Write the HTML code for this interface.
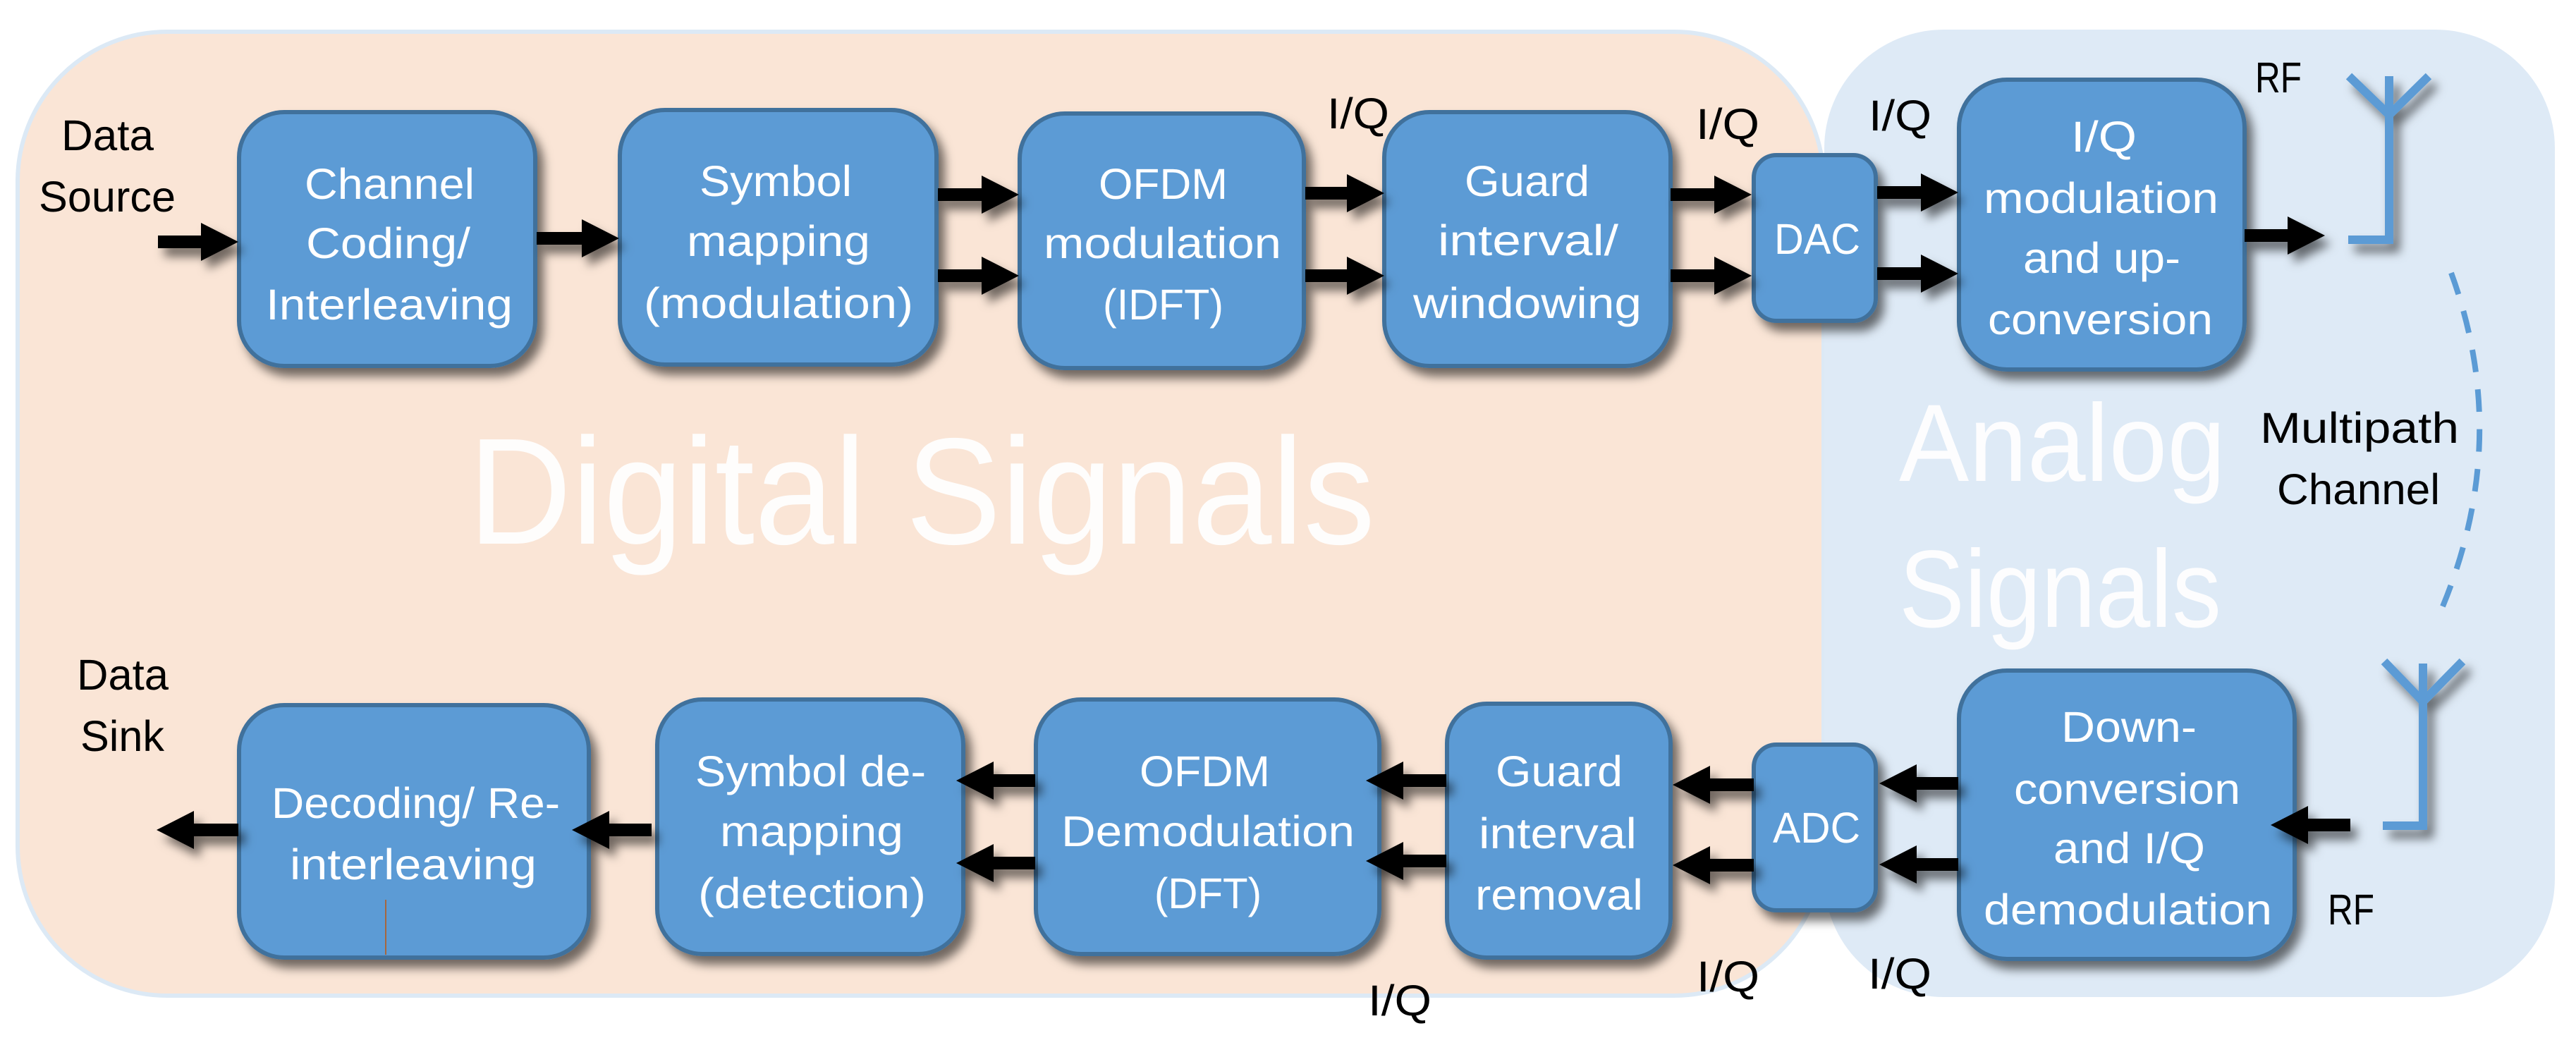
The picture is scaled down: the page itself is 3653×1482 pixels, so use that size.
<!DOCTYPE html>
<html><head><meta charset="utf-8"><style>
html,body{margin:0;padding:0;background:#fff}
svg{display:block}
text{font-family:"Liberation Sans",sans-serif}
.w{fill:#fff;font-size:61px}
.k{fill:#000;font-size:61px}
.b{fill:#fff;opacity:.95}
.n{fill:#5b9bd5;stroke:#41719c;stroke-width:6}
</style></head><body>
<svg xmlns="http://www.w3.org/2000/svg" width="3653" height="1482" viewBox="0 0 3653 1482">
<defs><filter id="s" x="-30%" y="-30%" width="170%" height="170%"><feDropShadow dx="9" dy="12" stdDeviation="7" flood-color="#000" flood-opacity=".55"/></filter></defs>
<rect width="3653" height="1482" fill="#fff"/>
<rect x="25" y="45" width="2561" height="1367" rx="212" ry="212" fill="#fae5d6" stroke="#dce9f5" stroke-width="6"/>
<rect x="2587" y="42" width="1036" height="1372" rx="170" ry="168" fill="#deeaf6"/>

<g class="b">
<text x="664" y="771" font-size="215" textLength="1286" lengthAdjust="spacingAndGlyphs">Digital Signals</text>
<text x="2693" y="682" font-size="156" textLength="463" lengthAdjust="spacingAndGlyphs">Analog</text>
<text x="2693" y="889" font-size="156" textLength="457" lengthAdjust="spacingAndGlyphs">Signals</text>
</g>

<g filter="url(#s)">
<rect class="n" x="339" y="159" width="420" height="360" rx="64"/>
<rect class="n" x="879" y="156" width="449" height="361" rx="64"/>
<rect class="n" x="1446" y="161" width="403" height="361" rx="64"/>
<rect class="n" x="1963" y="159" width="406" height="360" rx="64"/>
<rect class="n" x="2487" y="220" width="173" height="235" rx="32"/>
<rect class="n" x="2778" y="113" width="405" height="411" rx="68"/>
<rect class="n" x="339" y="1000" width="496" height="358" rx="64"/>
<rect class="n" x="932" y="992" width="434" height="361" rx="64"/>
<rect class="n" x="1469" y="992" width="487" height="361" rx="64"/>
<rect class="n" x="2052" y="998" width="317" height="360" rx="56"/>
<rect class="n" x="2487" y="1056" width="173" height="235" rx="32"/>
<rect class="n" x="2778" y="951" width="476" height="409" rx="68"/>
</g>

<g fill="#000" filter="url(#s)">
<path d="M224 334H285V316L338 343L285 370V352H224Z"/>
<path d="M761 329H825V311L878 338L825 365V347H761Z"/>
<path d="M1330 267H1392V249L1445 276L1392 303V285H1330Z"/>
<path d="M1330 382H1392V364L1445 391L1392 418V400H1330Z"/>
<path d="M1851 265H1910V247L1963 274L1910 301V283H1851Z"/>
<path d="M1851 382H1910V364L1963 391L1910 418V400H1851Z"/>
<path d="M2369 267H2431V249L2484 276L2431 303V285H2369Z"/>
<path d="M2369 382H2431V364L2484 391L2431 418V400H2369Z"/>
<path d="M2662 264H2724V246L2777 273L2724 300V282H2662Z"/>
<path d="M2662 379H2724V361L2777 388L2724 415V397H2662Z"/>
<path d="M3183 325H3244V307L3297 334L3244 361V343H3183Z"/>
<path d="M338 1168H275V1150L222 1177L275 1204V1186H338Z"/>
<path d="M924 1168H864V1150L811 1177L864 1204V1186H924Z"/>
<path d="M1468 1098H1409V1080L1356 1107L1409 1134V1116H1468Z"/>
<path d="M1468 1215H1409V1197L1356 1224L1409 1251V1233H1468Z"/>
<path d="M2051 1098H1990V1080L1937 1107L1990 1134V1116H2051Z"/>
<path d="M2051 1212H1990V1194L1937 1221L1990 1248V1230H2051Z"/>
<path d="M2487 1104H2425V1086L2372 1113L2425 1140V1122H2487Z"/>
<path d="M2487 1218H2425V1200L2372 1227L2425 1254V1236H2487Z"/>
<path d="M2777 1102H2718V1084L2665 1111L2718 1138V1120H2777Z"/>
<path d="M2777 1217H2718V1199L2665 1226L2718 1253V1235H2777Z"/>
<path d="M3333 1161H3273V1143L3220 1170L3273 1197V1179H3333Z"/>
</g>

<g fill="none" stroke="#5b9bd5" stroke-width="12" filter="url(#s)">
<path d="M3388 108V346M3331 108L3388 163L3444 108"/>
<path d="M3330 340H3388"/>
<path d="M3436 941V1177M3381 938L3436 995L3492 938"/>
<path d="M3379 1171H3436"/>
</g>
<path d="M3476 387Q3562 622 3464 860" fill="none" stroke="#5b9bd5" stroke-width="8" stroke-dasharray="32 24.6"/>
<path d="M547 1276V1354" stroke="#a5673f" stroke-width="2"/>

<g class="w">
<text x="432" y="282" textLength="241" lengthAdjust="spacingAndGlyphs">Channel</text>
<text x="434" y="366" textLength="233" lengthAdjust="spacingAndGlyphs">Coding/</text>
<text x="377" y="453" textLength="350" lengthAdjust="spacingAndGlyphs">Interleaving</text>
<text x="992" y="278" textLength="216" lengthAdjust="spacingAndGlyphs">Symbol</text>
<text x="974" y="363" textLength="260" lengthAdjust="spacingAndGlyphs">mapping</text>
<text x="913" y="451" textLength="382" lengthAdjust="spacingAndGlyphs">(modulation)</text>
<text x="1558" y="282" textLength="183" lengthAdjust="spacingAndGlyphs">OFDM</text>
<text x="1480" y="366" textLength="337" lengthAdjust="spacingAndGlyphs">modulation</text>
<text x="1564" y="453" textLength="171" lengthAdjust="spacingAndGlyphs">(IDFT)</text>
<text x="2077" y="278" textLength="177" lengthAdjust="spacingAndGlyphs">Guard</text>
<text x="2039" y="362" textLength="256" lengthAdjust="spacingAndGlyphs">interval/</text>
<text x="2004" y="451" textLength="324" lengthAdjust="spacingAndGlyphs">windowing</text>
<text x="2516" y="360" textLength="122" lengthAdjust="spacingAndGlyphs">DAC</text>
<text x="2937" y="215" textLength="93" lengthAdjust="spacingAndGlyphs">I/Q</text>
<text x="2813" y="302" textLength="333" lengthAdjust="spacingAndGlyphs">modulation</text>
<text x="2869" y="387" textLength="223" lengthAdjust="spacingAndGlyphs">and up-</text>
<text x="2819" y="474" textLength="319" lengthAdjust="spacingAndGlyphs">conversion</text>
<text x="385" y="1160" textLength="409" lengthAdjust="spacingAndGlyphs">Decoding/ Re-</text>
<text x="411" y="1247" textLength="350" lengthAdjust="spacingAndGlyphs">interleaving</text>
<text x="986" y="1115" textLength="327" lengthAdjust="spacingAndGlyphs">Symbol de-</text>
<text x="1021" y="1200" textLength="260" lengthAdjust="spacingAndGlyphs">mapping</text>
<text x="990" y="1288" textLength="323" lengthAdjust="spacingAndGlyphs">(detection)</text>
<text x="1616" y="1115" textLength="185" lengthAdjust="spacingAndGlyphs">OFDM</text>
<text x="1505" y="1200" textLength="416" lengthAdjust="spacingAndGlyphs">Demodulation</text>
<text x="1637" y="1288" textLength="152" lengthAdjust="spacingAndGlyphs">(DFT)</text>
<text x="2121" y="1115" textLength="180" lengthAdjust="spacingAndGlyphs">Guard</text>
<text x="2097" y="1203" textLength="224" lengthAdjust="spacingAndGlyphs">interval</text>
<text x="2092" y="1290" textLength="238" lengthAdjust="spacingAndGlyphs">removal</text>
<text x="2514" y="1195" textLength="124" lengthAdjust="spacingAndGlyphs">ADC</text>
<text x="2923" y="1052" textLength="192" lengthAdjust="spacingAndGlyphs">Down-</text>
<text x="2856" y="1140" textLength="321" lengthAdjust="spacingAndGlyphs">conversion</text>
<text x="2912" y="1224" textLength="215" lengthAdjust="spacingAndGlyphs">and I/Q</text>
<text x="2813" y="1311" textLength="409" lengthAdjust="spacingAndGlyphs">demodulation</text>
</g>

<g class="k">
<text x="87" y="213" textLength="131" lengthAdjust="spacingAndGlyphs">Data</text>
<text x="55" y="300" textLength="194" lengthAdjust="spacingAndGlyphs">Source</text>
<text x="109" y="978" textLength="130" lengthAdjust="spacingAndGlyphs">Data</text>
<text x="114" y="1065" textLength="119" lengthAdjust="spacingAndGlyphs">Sink</text>
<text x="1882" y="182" textLength="88" lengthAdjust="spacingAndGlyphs">I/Q</text>
<text x="2405" y="197" textLength="90" lengthAdjust="spacingAndGlyphs">I/Q</text>
<text x="2650" y="185" textLength="89" lengthAdjust="spacingAndGlyphs">I/Q</text>
<text x="3198" y="131" textLength="66" lengthAdjust="spacingAndGlyphs">RF</text>
<text x="3205" y="628" textLength="282" lengthAdjust="spacingAndGlyphs">Multipath</text>
<text x="3229" y="715" textLength="231" lengthAdjust="spacingAndGlyphs">Channel</text>
<text x="3301" y="1311" textLength="66" lengthAdjust="spacingAndGlyphs">RF</text>
<text x="1940" y="1440" textLength="90" lengthAdjust="spacingAndGlyphs">I/Q</text>
<text x="2406" y="1406" textLength="89" lengthAdjust="spacingAndGlyphs">I/Q</text>
<text x="2649" y="1402" textLength="90" lengthAdjust="spacingAndGlyphs">I/Q</text>
</g>
</svg>
</body></html>
